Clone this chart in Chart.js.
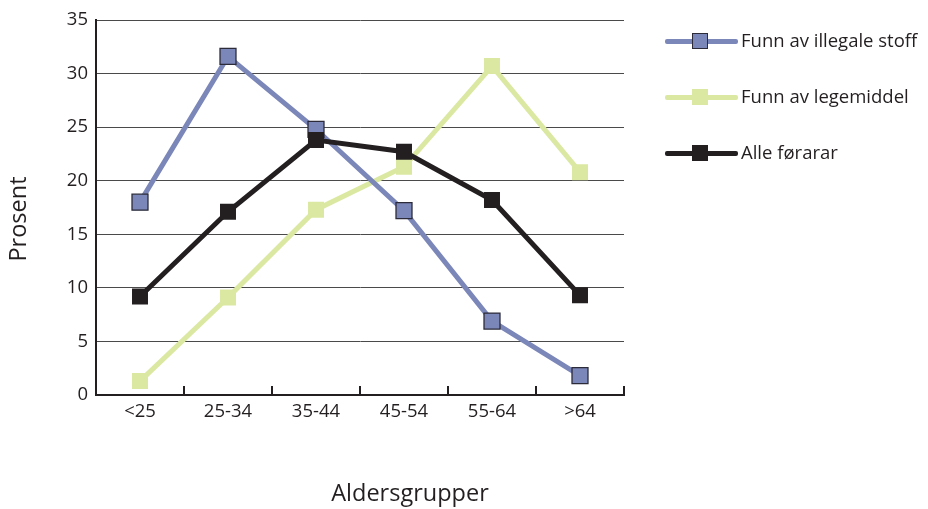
<!DOCTYPE html>
<html><head><meta charset="utf-8">
<script src="https://cdn.jsdelivr.net/npm/chart.js@4"></script>
<style>
html,body{margin:0;padding:0;background:#fff;}
#wrap{position:relative;width:928px;height:509px;}
#c{position:absolute;left:0;top:0;}
.leg{position:absolute;left:665px;font-family:"Open Sans",sans-serif;font-size:18.5px;color:#231f20;height:20px;}
.leg .ln{position:absolute;left:0;top:8px;width:73px;height:5px;border-radius:2px;}
.leg .mk{position:absolute;left:27px;top:2px;width:16px;height:16px;box-sizing:border-box;}
.leg .tx{position:absolute;left:76px;top:-4px;white-space:nowrap;}
</style></head>
<body><div id="wrap"><canvas id="c" width="928" height="509"></canvas>
<div class="leg" style="top:31px"><div class="ln" style="background:#7c87b9"></div><div class="mk" style="background:#7c87b9;border:1.5px solid #2b2b3a"></div><div class="tx">Funn av illegale stoff</div></div>
<div class="leg" style="top:87px"><div class="ln" style="background:#dbe8a2"></div><div class="mk" style="background:#dbe8a2"></div><div class="tx">Funn av legemiddel</div></div>
<div class="leg" style="top:143px"><div class="ln" style="background:#231f20"></div><div class="mk" style="background:#231f20"></div><div class="tx">Alle førarar</div></div>
</div>
<script>
const categories = ["<25","25-34","35-44","45-54","55-64",">64"];
const illegaleStoff = [18.0, 31.6, 24.8, 17.2, 6.9, 1.8];
const legemiddel = [1.3, 9.1, 17.3, 21.3, 30.7, 20.8];
const alleForarar = [9.2, 17.1, 23.8, 22.7, 18.2, 9.3];
const yTitle = "Prosent";
const xTitle = "Aldersgrupper";

const FONT = '"Open Sans", sans-serif';
const innerTicks = {
  id:'innerTicks',
  afterDraw(chart){
    const {ctx, chartArea:a, scales:{x}} = chart;
    ctx.save();
    ctx.strokeStyle='#231f20'; ctx.lineWidth=2;
    for(let i=0;i<=categories.length;i++){
      const px = Math.round(x.getPixelForValue(i-0.5));
      ctx.beginPath(); ctx.moveTo(px,a.bottom); ctx.lineTo(px,a.bottom-9); ctx.stroke();
    }
    ctx.fillStyle='#231f20';
    ctx.font='23.5px '+FONT;
    ctx.textAlign='center'; ctx.textBaseline='middle';
    ctx.fillText(xTitle, 410, 494);
    ctx.translate(19, 219); ctx.rotate(-Math.PI/2);
    ctx.fillText(yTitle, 0, 0);
    ctx.restore();
  }
};

const mk = (label, data, color, border, order) => ({
  label, data, order,
  borderColor: color, backgroundColor: color,
  borderWidth: 5,
  pointStyle: 'rect', pointRadius: 11.3, pointHoverRadius: 11.3,
  pointBackgroundColor: color, pointBorderColor: border, pointBorderWidth: border===color?0:1.3,
  tension: 0
});

new Chart(document.getElementById('c'), {
  type:'line',
  data:{ labels: categories, datasets:[
    mk("Funn av illegale stoff", illegaleStoff, '#7c87b9', '#2b2b3a', 1),
    mk("Funn av legemiddel", legemiddel, '#dbe8a2', '#dbe8a2', 2),
    mk("Alle førarar", alleForarar, '#231f20', '#231f20', 0)
  ]},
  options:{
    responsive:false, animation:false,
    layout:{padding:{left:0, top:20, right:304, bottom:0}},
    plugins:{legend:{display:false}, tooltip:{enabled:false}},
    scales:{
      x:{
        offset:true,
        grid:{display:false, drawTicks:false},
        border:{display:true, color:'#231f20', width:2},
        ticks:{color:'#231f20', font:{family:FONT, size:18.5}, padding:6, maxRotation:0},
        afterFit(s){ s.height = 114; }
      },
      y:{
        min:0, max:35,
        ticks:{stepSize:5, color:'#231f20', font:{family:FONT, size:18.5}, padding:8},
        grid:{color:'#4a4a4a', lineWidth:1, drawTicks:false},
        border:{display:true, color:'#231f20', width:2},
        afterFit(s){ s.width = 96; }
      }
    }
  },
  plugins:[innerTicks]
});
</script></body></html>
